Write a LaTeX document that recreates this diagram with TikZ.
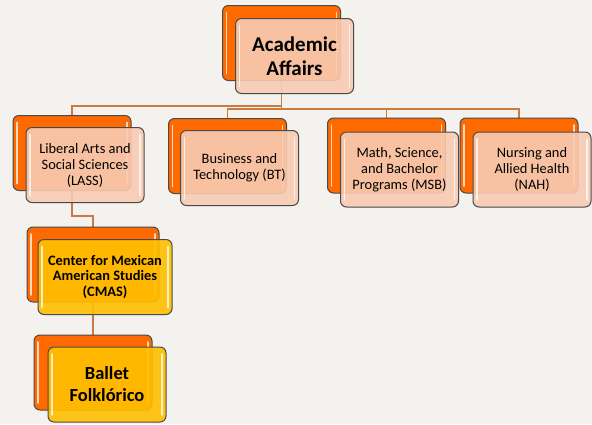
\documentclass[tikz,border=0pt]{standalone}
\usepackage{fontspec}
\setmainfont{Carlito}
\usetikzlibrary{backgrounds}

\definecolor{bgc}{HTML}{F3F2EF}
\definecolor{tabc}{HTML}{FF6A00}
\definecolor{pinkc}{HTML}{F8CBB3}
\definecolor{goldc}{HTML}{FFC000}
\definecolor{edgec}{HTML}{4A4A4A}
\definecolor{linkc}{HTML}{CD7A3E}

\tikzset{
	gloss/.style={path picture={
		\draw[white, line width=1.6pt, opacity=.75, line cap=round]
			([xshift=4pt,yshift=-7pt]path picture bounding box.north west) -- ([xshift=4pt,yshift=7pt]path picture bounding box.south west)
			([xshift=-4pt,yshift=-7pt]path picture bounding box.north east) -- ([xshift=-4pt,yshift=7pt]path picture bounding box.south east);
	}},
	tab/.style={draw=edgec, line width=1pt, rounded corners=6pt, fill=tabc,
		minimum width=118pt, minimum height=75pt, inner sep=0pt, gloss},
	card/.style={draw=edgec, line width=1pt, rounded corners=6pt, fill=pinkc,
		fill opacity=.9, text opacity=1, minimum width=118pt, minimum height=75pt,
		inner sep=2pt, align=center, font=\fontsize{14.4}{16}\selectfont, gloss},
	goldcard/.style={card, fill=goldc, font=\bfseries\fontsize{14.4}{15.5}\selectfont},
	link/.style={draw=linkc, line width=1.1pt},
}

\begin{document}
\begin{tikzpicture}[x=1pt,y=-1pt]
	\useasboundingbox (0,0) rectangle (592,424);
	
	% Back tabs
	\node[tab] (aaT) at (281.5,43) {};
	\node[tab] (lassT) at (72,153) {};
	\node[tab] (btT) at (227.5,156) {};
	\node[tab] (msbT) at (386.5,155.5) {};
	\node[tab] (nahT) at (519,155.5) {};
	\node[tab, minimum width=132pt] (cmasT) at (93,264.5) {};
	\node[tab] (balT) at (93,372.5) {};
	
	% Front cards
	\node[card, font=\bfseries\fontsize{21}{24}\selectfont] (aa) at ([shift={(13,13)}]aaT) {Academic\\Affairs};
	\node[card] (lass) at ([shift={(13,12)}]lassT) {Liberal Arts and\\Social Sciences\\(LASS)};
	\node[card] (bt) at ([shift={(12,12)}]btT) {Business and\\Technology (BT)};
	\node[card] (msb) at ([shift={(13,14)}]msbT) {Math, Science,\\and Bachelor\\Programs (MSB)};
	\node[card] (nah) at ([shift={(13,14)}]nahT) {Nursing and\\Allied Health\\(NAH)};
	\node[goldcard, minimum width=134pt] (cmas) at ([shift={(12,12.5)}]cmasT) {Center for Mexican\\American Studies\\(CMAS)};
	\node[goldcard, font=\bfseries\fontsize{18.5}{22}\selectfont] (bal) at ([shift={(14,12)}]balT) {Ballet\\Folklórico};
	
	% Connectors
	\begin{scope}[on background layer]
		\fill[bgc] (0,0) rectangle (592,424);
		\draw[link] (aaT.south) -- (aaT.south |- 0,106) -| (lassT.north);
		\foreach \kid in {btT, msbT, nahT} {
			\draw[link] (aaT.south) -- (aaT.south |- 0,109) -| (\kid.north);
		}
		\draw[link] (lassT.south) -- (lassT.south |- 0,216) -| (cmasT.north);
		\draw[link] (cmasT.south) -- (balT.north);
	\end{scope}
\end{tikzpicture}
\end{document}
